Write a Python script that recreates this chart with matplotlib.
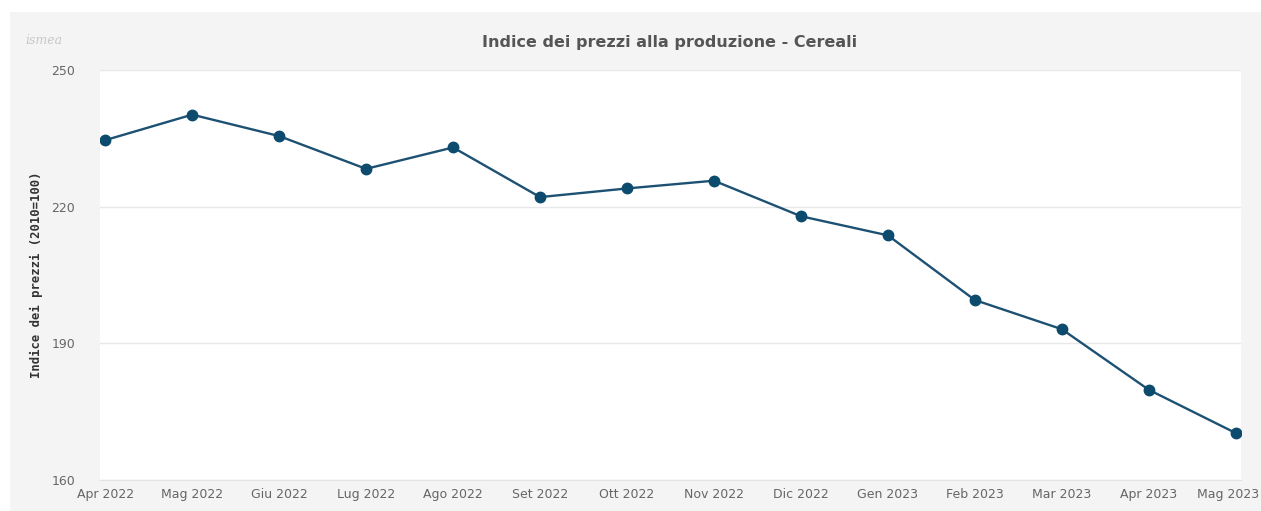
import matplotlib.pyplot as plt
from matplotlib.patches import Rectangle
from matplotlib.transforms import ScaledTranslation

# Indice dei prezzi alla produzione - Cereali (2010=100)
mesi = ["Apr 2022", "Mag 2022", "Giu 2022", "Lug 2022", "Ago 2022", "Set 2022",
        "Ott 2022", "Nov 2022", "Dic 2022", "Gen 2023", "Feb 2023", "Mar 2023",
        "Apr 2023", "Mag 2023"]
indice = [234.6, 240.2, 235.5, 228.3, 233.0, 222.1, 224.0, 225.7, 217.9, 213.7,
          199.5, 193.1, 179.8, 170.3]
y_ticks = [160, 190, 220, 250]

W, H = 1261, 511
fig = plt.figure(figsize=(W / 100, H / 100), dpi=100)
fig.patch.set_facecolor("white")

# grey card behind the chart
card = Rectangle((10 / W, 0), 1 - 10 / W, 1 - 12 / H,
                 transform=fig.transFigure, facecolor="#f4f4f4",
                 edgecolor="none", zorder=-5)
fig.add_artist(card)

ax = fig.add_axes([100 / W, 31 / H, 1141 / W, 410 / H])
ax.set_facecolor("white")

x = list(range(len(mesi)))
ax.plot(x, indice, color="#1d5173", linewidth=1.7, zorder=3)
ax.plot(x, indice, linestyle="none", marker="o", markersize=7.5,
        color="#0c4a6e", zorder=4)

ax.set_xlim(-0.06, len(mesi) - 1 + 0.06)
ax.set_ylim(160, 250)
ax.set_xticks(x)
ax.set_xticklabels(mesi)
ax.set_yticks(y_ticks)
ax.grid(axis="y", color="#e8e8e8", linewidth=1)
ax.set_axisbelow(True)

for side in ["top", "right", "left"]:
    ax.spines[side].set_visible(False)
ax.spines["bottom"].set_color("#e2e2e2")

ax.tick_params(axis="both", length=0, labelsize=9, labelcolor="#666666")
ax.tick_params(axis="x", pad=6)
ax.tick_params(axis="y", pad=18)

# last month label sits at the right edge; keep it inside the picture
last = ax.get_xticklabels()[-1]
last.set_horizontalalignment("right")
last.set_transform(last.get_transform() + ScaledTranslation(0.23, 0, fig.dpi_scale_trans))

ax.set_ylabel("Indice dei prezzi (2010=100)", fontsize=8.8, fontweight="bold",
              family="DejaVu Sans Mono", color="#333333")
ax.yaxis.set_label_coords(-57 / 1141, 0.5)

fig.text(670 / W, 1 - 42 / H, "Indice dei prezzi alla produzione - Cereali",
         ha="center", va="center", fontsize=11.5, fontweight="bold", color="#555555")

# faded logo
fig.text(44 / W, 1 - 40 / H, "ismea", ha="center", va="center", fontsize=9,
         style="italic", family="DejaVu Serif", color="#c8c8c8")

fig.savefig("out.png", dpi=100)
